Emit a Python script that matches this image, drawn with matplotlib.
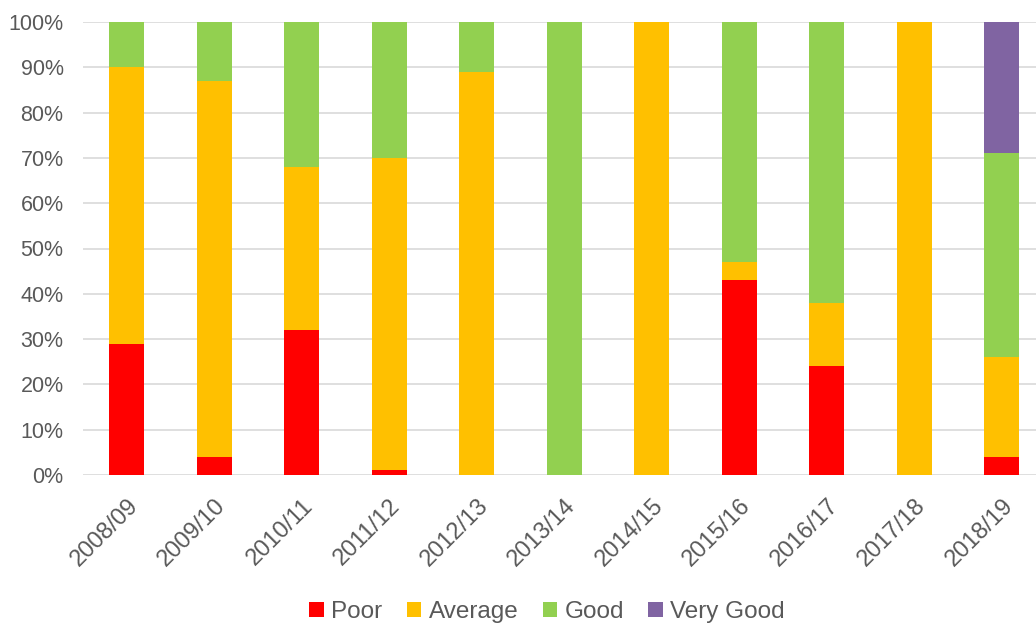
import matplotlib.pyplot as plt
import numpy as np

plt.rcParams['font.family'] = ['Liberation Sans', 'DejaVu Sans']

# categories and stacked shares (%)
seasons = ['2008/09', '2009/10', '2010/11', '2011/12', '2012/13', '2013/14',
           '2014/15', '2015/16', '2016/17', '2017/18', '2018/19']
poor = [29, 4, 32, 1, 0, 0, 0, 43, 24, 0, 4]
average = [61, 83, 36, 69, 89, 0, 100, 4, 14, 100, 22]
good = [10, 13, 32, 30, 11, 100, 0, 53, 62, 0, 45]
very_good = [0, 0, 0, 0, 0, 0, 0, 0, 0, 0, 29]

series = [('Poor', poor, '#ff0000'),
          ('Average', average, '#ffc000'),
          ('Good', good, '#92d050'),
          ('Very Good', very_good, '#8064a2')]

fig = plt.figure(figsize=(10.36, 6.23), dpi=100)
# axes runs slightly past the right edge, as in the original crop
ax = fig.add_axes([83 / 1036, 1 - 475 / 623, 962.75 / 1036, 453 / 623])

x = np.arange(len(seasons))
bottom = np.zeros(len(seasons))
for name, vals, col in series:
    ax.bar(x, vals, 0.4, bottom=bottom, color=col, label=name, zorder=3)
    bottom += np.array(vals)

ax.set_xlim(-0.5, len(seasons) - 0.5)
ax.set_ylim(0, 100)
ax.set_yticks(range(0, 101, 10))
ax.set_yticklabels([f'{v}%' for v in range(0, 101, 10)])
ax.set_xticks(x)
ax.set_xticklabels(seasons, rotation=45, ha='right', rotation_mode='anchor')
ax.tick_params(axis='both', length=0, labelcolor='#595959')
ax.tick_params(axis='x', pad=14, labelsize=17)
ax.tick_params(axis='y', pad=14, labelsize=15.5)
ax.grid(axis='y', color='#d9d9d9', linewidth=1.2, zorder=0)
for s in ax.spines.values():
    s.set_visible(False)

fig.legend(loc='lower center', bbox_to_anchor=(0.528, -0.035), ncol=4,
           frameon=False, fontsize=17.5, handlelength=0.6, handleheight=0.6,
           handletextpad=0.3, columnspacing=1.0, labelcolor='#595959')

fig.savefig('out.png', dpi=100)
